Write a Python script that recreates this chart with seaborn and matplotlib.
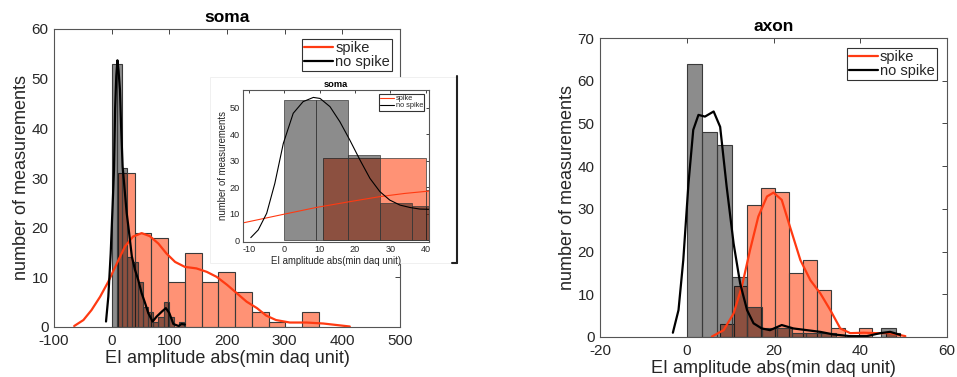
import numpy as np
import pandas as pd
import matplotlib
matplotlib.use("Agg")
import matplotlib.pyplot as plt
import seaborn as sns
from matplotlib.lines import Line2D
from matplotlib.patches import Rectangle

# ---------------- data ----------------
# soma panel histograms
soma_spike_bin_start = 11.0
soma_spike_bin_width = 29.0
soma_spike_counts = [31, 19, 18, 9, 15, 9, 11, 7, 3, 1, 0, 3]
soma_nospike_bin_start = 0.0
soma_nospike_bin_width = 9.0
soma_nospike_counts = [53, 53, 32, 14, 13, 9, 4, 3, 1, 2, 5, 2, 0, 1]

# soma panel density curves (scaled to counts)
soma_spike_curve_x = [-65, -49, -35, -20, -6, 9, 23, 37, 52, 66, 81, 95, 110,
                      127, 147, 165, 182, 200, 217, 234, 252, 268, 285, 309,
                      338, 367, 390, 413]
soma_spike_curve_y = [0.2, 1.4, 3.4, 6.1, 9.1, 12.8, 16.2, 18.2, 18.9, 18.3,
                      16.8, 14.8, 13.1, 12.1, 11.8, 11.1, 10.1, 8.5, 6.8, 5.1,
                      3.8, 2.3, 1.4, 0.9, 0.9, 0.7, 0.4, 0.1]
soma_nospike_curve_x = [-9.8, -5.8, -1.7, 1.8, 4, 6, 8, 10, 12, 14.4, 16.5,
                        19, 23, 26, 29, 35, 40.5, 46, 52, 58, 63.5, 71, 78, 87,
                        94, 100, 107, 116, 121, 127]
soma_nospike_curve_y = [1.1, 6.1, 14.8, 24.9, 31.6, 44, 50.5, 53.7, 51.5, 47.7,
                        40, 32.3, 27, 23, 20.2, 14.2, 11.5, 9.5, 6.8, 4.8, 2.8,
                        1.1, 2.1, 3.1, 3.8, 2.8, 0.6, 0.2, 0.6, 0.5]

# inset (zoom of soma panel) curves
inset_spike_curve_x = [-11.6, -0.3, 9.0, 18.5, 27.0, 34.0, 40.9]
inset_spike_curve_y = [6.5, 9.7, 12.3, 14.5, 16.4, 17.6, 18.5]
inset_nospike_curve_x = [-9.5, -7.4, -5.0, -2.7, -0.3, 2.5, 5.3, 8.2, 10.1,
                         12.9, 15.7, 18.5, 21.4, 24.2, 27.0, 29.8, 32.7, 35.5,
                         38.3, 40.9]
inset_nospike_curve_y = [0.9, 3.8, 10.1, 21.4, 36.5, 47.9, 52.3, 53.9, 53.5,
                         50.4, 44.7, 37.8, 30.2, 23.3, 18.3, 15.1, 13.2, 12.3,
                         11.7, 11.6]

# axon panel histograms
axon_spike_bin_start = 7.6
axon_spike_bin_width = 3.2
axon_spike_counts = [3, 12, 31, 35, 34, 15, 18, 11, 2, 0, 2, 0, 1]
axon_nospike_bin_start = 0.0
axon_nospike_bin_width = 3.45
axon_nospike_counts = [64, 48, 45, 14, 7, 2, 2, 1, 1, 1, 0, 0, 0, 2]

# axon panel density curves
axon_spike_curve_x = [5.8, 8.5, 10.8, 12.7, 14.6, 16.5, 18.5, 20.0, 21.9, 23.8,
                      26.2, 28.5, 30.8, 33.1, 35.4, 37.7, 40.8, 43.9, 46.9, 50.4]
axon_spike_curve_y = [0.1, 1.6, 5.5, 11.8, 20.4, 28.2, 32.9, 33.8, 32.1, 25.8,
                      18.0, 13.3, 10.2, 6.3, 2.0, 0.9, 1.0, 0.9, 0.9, 0.2]
axon_nospike_curve_x = [-3.2, -1.9, -0.8, 0.4, 1.5, 2.7, 4.2, 6.2, 7.7, 9.2,
                        10.8, 12.3, 13.9, 15.4, 17.3, 19.2, 21.9, 24.6, 27.7,
                        30.8, 33.8, 37.7, 41.5, 44.6, 46.9, 49.2]
axon_nospike_curve_y = [1.0, 6.3, 18.0, 36.0, 48.5, 52.0, 51.6, 52.8, 49.2,
                        35.2, 21.9, 12.6, 6.3, 3.2, 2.0, 1.6, 2.8, 2.0, 1.6,
                        1.2, 0.6, 0.2, 0.2, 0.9, 1.2, 0.5]

labels = ["spike", "no spike"]
xlabel = "EI amplitude abs(min daq unit)"
ylabel = "number of measurements"

# ---------------- style ----------------
sns.set_theme(style="white")
plt.rcParams["font.family"] = ["Liberation Sans", "DejaVu Sans"]
plt.rcParams["axes.unicode_minus"] = False

SPIKE_FACE = "#FF4A1A"
SPIKE_LINE = "#FF3A12"
NOSPIKE_FACE = "#000000"
EDGE = "#3a3a3a"
AX_COL = "#262626"

fig = plt.figure(figsize=(9.57, 3.77), dpi=100)
W, H = 957.0, 377.0


def px_axes(left, top, right, bottom):
    return fig.add_axes([left / W, 1 - bottom / H, (right - left) / W, (bottom - top) / H])


def draw_hist(ax, start, width, counts, face, alpha, lw):
    n = len(counts)
    edges = [start + width * i for i in range(n + 1)]
    df = pd.DataFrame({"x": [start + width * (i + 0.5) for i in range(n)],
                       "w": [float(c) for c in counts]})
    sns.histplot(data=df, x="x", weights="w", bins=edges, ax=ax, color=face,
                 alpha=alpha, edgecolor=EDGE, linewidth=lw)


def style_axes(ax, tick_size, label_size, title, title_size, tick_len,
               xpad, ypad, lpad, title_pad):
    ax.tick_params(direction="in", top=True, right=True, length=tick_len,
                   width=0.6, color=AX_COL, labelcolor=AX_COL,
                   labelsize=tick_size)
    ax.tick_params(axis="x", pad=xpad)
    ax.tick_params(axis="y", pad=ypad)
    for s in ax.spines.values():
        s.set_color("#555555")
        s.set_linewidth(0.8)
    ax.set_xlabel(xlabel, fontsize=label_size, color=AX_COL, labelpad=lpad)
    ax.set_ylabel(ylabel, fontsize=label_size, color=AX_COL, labelpad=lpad)
    ax.set_title(title, fontsize=title_size, fontweight="bold", color="black", pad=title_pad)
    ax.set_facecolor("white")


def legend(ax, size, anchor):
    ax.legend(loc="upper right", bbox_to_anchor=anchor, bbox_transform=fig.transFigure,
              borderaxespad=0, fontsize=size, frameon=True, fancybox=False,
              framealpha=1, edgecolor="#333333", handlelength=2.0,
              handletextpad=0.15, borderpad=0.15, labelspacing=0.0)
    ax.get_legend().get_frame().set_linewidth(0.8)


# ---------------- soma panel ----------------
ax1 = px_axes(54, 29, 400, 327)
draw_hist(ax1, soma_spike_bin_start, soma_spike_bin_width, soma_spike_counts, SPIKE_FACE, 0.6, 0.8)
draw_hist(ax1, soma_nospike_bin_start, soma_nospike_bin_width, soma_nospike_counts, NOSPIKE_FACE, 0.45, 0.8)
sns.lineplot(x=soma_spike_curve_x, y=soma_spike_curve_y, ax=ax1, color=SPIKE_LINE,
             lw=1.6, sort=False, estimator=None, label=labels[0])
sns.lineplot(x=soma_nospike_curve_x, y=soma_nospike_curve_y, ax=ax1, color="black",
             lw=1.6, sort=False, estimator=None, label=labels[1])
ax1.set_xlim(-100, 500)
ax1.set_ylim(0, 60)
ax1.set_xticks(np.arange(-100, 501, 100))
ax1.set_yticks(np.arange(0, 61, 10))
style_axes(ax1, 11, 13, "soma", 12.5, 3.5, 5.2, 4, 1, 5)
legend(ax1, 10.5, (392 / W, 1 - 39 / H))

# ---------------- inset (white card) ----------------
card = Rectangle((210 / W, 1 - 263 / H), 247 / W, 186 / H, transform=fig.transFigure,
                 facecolor="white", edgecolor="#eeeeee", linewidth=0.6, zorder=1)
fig.patches.append(card)
fig.lines.append(Line2D([457 / W, 457 / W], [1 - 76 / H, 1 - 263 / H],
                        transform=fig.transFigure, color="#222222", lw=1.5, zorder=3))
fig.lines.append(Line2D([452 / W, 457 / W], [1 - 263 / H, 1 - 263 / H],
                        transform=fig.transFigure, color="#222222", lw=1.5, zorder=3))

ax_in = px_axes(243, 90, 429, 242)
ax_in.set_zorder(2)
draw_hist(ax_in, soma_spike_bin_start, soma_spike_bin_width, soma_spike_counts, SPIKE_FACE, 0.6, 0.5)
draw_hist(ax_in, soma_nospike_bin_start, soma_nospike_bin_width, soma_nospike_counts, NOSPIKE_FACE, 0.45, 0.5)
sns.lineplot(x=inset_spike_curve_x, y=inset_spike_curve_y, ax=ax_in, color=SPIKE_LINE,
             lw=0.8, sort=False, estimator=None, label=labels[0])
sns.lineplot(x=inset_nospike_curve_x, y=inset_nospike_curve_y, ax=ax_in, color="black",
             lw=0.8, sort=False, estimator=None, label=labels[1])
ax_in.set_xlim(-11.7, 40.9)
ax_in.set_ylim(-0.75, 56.7)
ax_in.set_xticks(np.arange(-10, 41, 10))
ax_in.set_yticks(np.arange(0, 51, 10))
style_axes(ax_in, 6.6, 6.9, "soma", 6.7, 2.0, 2.5, 2.5, 1, 2)
legend(ax_in, 5.3, (424 / W, 1 - 94 / H))

# ---------------- axon panel ----------------
ax2 = px_axes(600, 38, 947, 337)
draw_hist(ax2, axon_spike_bin_start, axon_spike_bin_width, axon_spike_counts, SPIKE_FACE, 0.6, 0.8)
draw_hist(ax2, axon_nospike_bin_start, axon_nospike_bin_width, axon_nospike_counts, NOSPIKE_FACE, 0.45, 0.8)
sns.lineplot(x=axon_spike_curve_x, y=axon_spike_curve_y, ax=ax2, color=SPIKE_LINE,
             lw=1.6, sort=False, estimator=None, label=labels[0])
sns.lineplot(x=axon_nospike_curve_x, y=axon_nospike_curve_y, ax=ax2, color="black",
             lw=1.6, sort=False, estimator=None, label=labels[1])
ax2.set_xlim(-20, 60)
ax2.set_ylim(0, 70)
ax2.set_xticks(np.arange(-20, 61, 20))
ax2.set_yticks(np.arange(0, 71, 10))
style_axes(ax2, 11, 13, "axon", 12.5, 3.5, 5.2, 4, 1, 5)
legend(ax2, 10.5, (937 / W, 1 - 48 / H))

fig.savefig("out.png", dpi=100, facecolor="white")
